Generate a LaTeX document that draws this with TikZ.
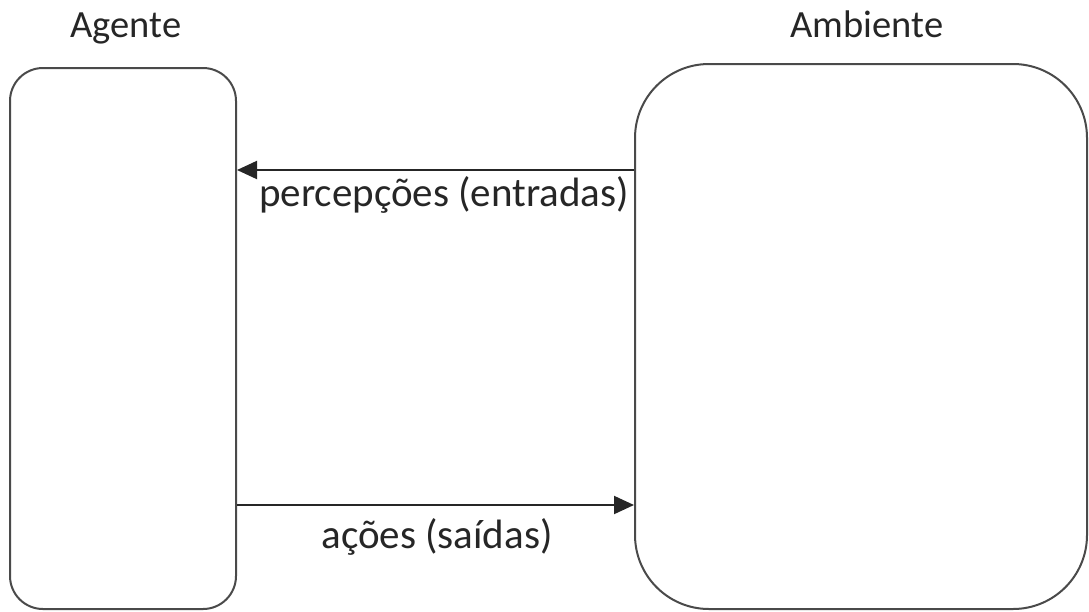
\documentclass[tikz,border=0pt]{standalone}
\usepackage{fontspec}
\setmainfont{Carlito}
\usetikzlibrary{arrows.meta}
\definecolor{edgegray}{HTML}{4A4A4A}
\definecolor{inkgray}{HTML}{262626}
\tikzset{
  panel/.style={draw=edgegray, line width=2pt, inner sep=0pt},
  flow/.style={draw=inkgray, line width=2pt, -{Triangle[length=20pt,width=18pt]}},
  lbl/.style={text=inkgray, inner sep=0pt, anchor=base},
  title/.style={lbl, font=\fontsize{38.5}{44}\selectfont},
  flowlbl/.style={lbl, font=\fontsize{41}{48}\selectfont}
}
\begin{document}
\begin{tikzpicture}[x=1pt,y=-1pt]
  \useasboundingbox (0,0) rectangle (1089,611);
  % the two blocks
  \node[panel, rounded corners=33pt, minimum width=226pt, minimum height=541pt] (ag) at (123,338.5) {};
  \node[panel, rounded corners=74pt, minimum width=452pt, minimum height=545pt] (amb) at (861,336.5) {};
  % titles
  \node[title] (tag) at (126,37) {Agente};
  \node[title] (tamb) at (867,37) {Ambiente};
  % exchanges between agent and environment
  \coordinate (pin) at (0,170);
  \coordinate (pout) at (0,505);
  \draw[flow] (amb.west |- pin) -- (ag.east |- pin);
  \draw[flow] (ag.east |- pout) -- (amb.west |- pout);
  \node[flowlbl] (lin) at (444,206) {percepções (entradas)};
  \node[flowlbl] (lout) at (437,548) {ações (saídas)};
\end{tikzpicture}
\end{document}
